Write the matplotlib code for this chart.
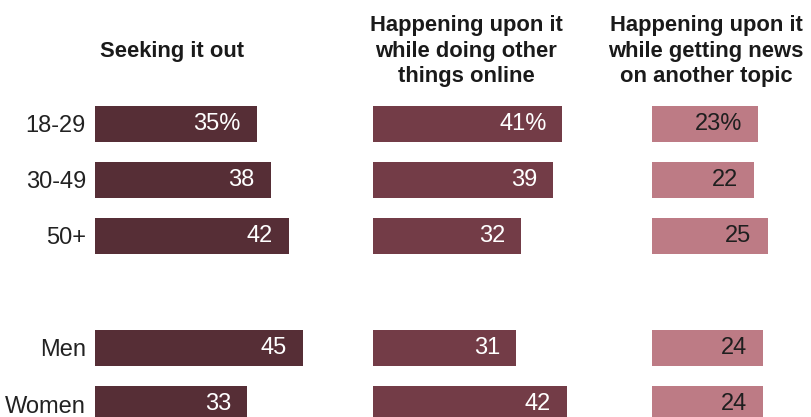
import matplotlib.pyplot as plt
from matplotlib import transforms

groups = ["18-29", "30-49", "50+", "Men", "Women"]
rows = [0, 1, 2, 4, 5]  # blank row between age and gender groups

seeking = [35, 38, 42, 45, 33]
doing_other = [41, 39, 32, 31, 42]
other_topic = [23, 22, 25, 24, 24]

headers = [
    "Seeking it out",
    "Happening upon it\nwhile doing other\nthings online",
    "Happening upon it\nwhile getting news\non another topic",
]
bar_colors = ["#562e36", "#733c47", "#bd7b85"]
text_colors = ["white", "white", "#1f1f1f"]

plt.rcParams["font.family"] = ["Liberation Sans", "DejaVu Sans"]

W, H = 812, 417
fig = plt.figure(figsize=(W / 100, H / 100), dpi=100)

px_per_unit = 4.62
panel_left = [95, 373, 652]
panel_units = 50
top_px = 96
ymax = (H - 124) / 56  # row 0 centred at y=124 px, rows 56 px apart

series = [seeking, doing_other, other_topic]
for k, vals in enumerate(series):
    ax = fig.add_axes([panel_left[k] / W, 0, panel_units * px_per_unit / W, (H - top_px) / H])
    ax.barh(rows, vals, height=0.64, color=bar_colors[k])
    ax.set_xlim(0, panel_units)
    ax.set_ylim(ymax, -0.5)
    for s in ax.spines.values():
        s.set_visible(False)
    ax.set_xticks([])
    if k == 0:
        ax.set_yticks(rows)
        ax.set_yticklabels(groups, fontsize=17, color="#222222")
        ax.tick_params(axis="y", length=0, pad=6.5)
    else:
        ax.set_yticks([])
    off = transforms.offset_copy(ax.transData, fig=fig, x=-11.5, y=0, units="points")
    for j, (r, v) in enumerate(zip(rows, vals)):
        label = f"{v}%" if j == 0 else f"{v}"
        ax.text(v, r, label, transform=off, ha="right", va="center",
                fontsize=17, color=text_colors[k])

# column headers
header_x = [172, 466, 706]
header_y = [51, 51, 51]
for k, txt in enumerate(headers):
    fig.text(header_x[k] / W, 1 - header_y[k] / H, txt, ha="center", va="center",
             fontsize=15.8, fontweight="bold", color="#1a1a1a", linespacing=1.3)

fig.savefig("out.png", dpi=100)
